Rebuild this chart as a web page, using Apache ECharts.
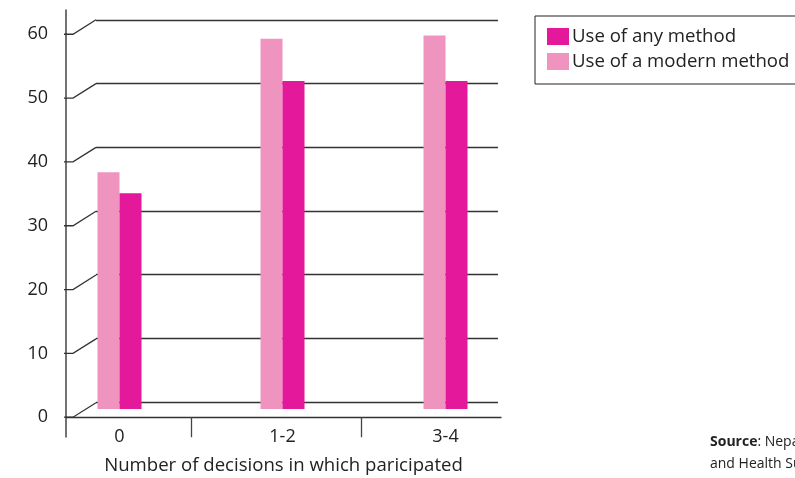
<!DOCTYPE html>
<html>
<head>
<meta charset="utf-8">
<script src="https://cdn.jsdelivr.net/npm/echarts@6/dist/echarts.min.js"></script>
<style>
  html, body { margin: 0; padding: 0; background: #fff; }
  #chart { width: 795px; height: 478px; }
</style>
</head>
<body>
<div id="chart"></div>
<script>
// Contraceptive use by number of household decisions a woman took part in
const categories = ['0', '1-2', '3-4'];
const modernMethod = [37.1, 58.0, 58.5];   // Use of a modern method
const anyMethod = [33.8, 51.4, 51.4];      // Use of any method
const yTicks = [0, 10, 20, 30, 40, 50, 60];
const seriesNames = ['Use of any method', 'Use of a modern method'];
const xTitle = 'Number of decisions in which paricipated';

const FONT = '"Open Sans", "Noto Sans", sans-serif';
const INK = '#222';
const LINE = '#333';
const PINK_LIGHT = '#EE94BF';
const PINK_DARK = '#E3189A';

// front frame axis: value range chosen so the x ticks sit on category boundaries
const frontX = { min: 0.265, max: 2.824 };

const chart = echarts.init(document.getElementById('chart'), null, { renderer: 'canvas' });

chart.setOption({
  animation: false,
  backgroundColor: '#fff',
  textStyle: { fontFamily: FONT },
  grid: [
    // 0: front frame (y scale labels, base line, x ticks)
    { left: 66, right: 294, top: 10, bottom: 41, outerBoundsMode: 'none', containLabel: false },
    // 1: back wall with horizontal grid lines
    { left: 96, right: 297, top: 20, bottom: 76, outerBoundsMode: 'none', containLabel: false },
    // 2: bars
    { left: 38, right: 268, top: 26, bottom: 69, outerBoundsMode: 'none', containLabel: false }
  ],
  xAxis: [
    {
      gridIndex: 0, type: 'value', min: frontX.min, max: frontX.max,
      axisLine: { show: true, onZero: true, lineStyle: { color: LINE, width: 1.3 } },
      axisTick: { show: true, customValues: [1, 2], length: 20, inside: false,
                  lineStyle: { color: '#444', width: 1.3 } },
      axisLabel: { show: false },
      splitLine: { show: false },
      name: xTitle, nameLocation: 'middle', nameGap: 19,
      nameTextStyle: { fontFamily: FONT, fontSize: 18.6, color: INK }
    },
    { gridIndex: 1, type: 'category', data: categories, show: false },
    {
      gridIndex: 2, type: 'category', data: categories,
      axisLine: { show: false }, axisTick: { show: false },
      axisLabel: { margin: 19, fontFamily: FONT, fontSize: 18, color: INK },
      splitLine: { show: false }
    }
  ],
  yAxis: [
    {
      gridIndex: 0, type: 'value', min: -3.1, max: 63.8,
      axisLine: { show: true, lineStyle: { color: '#444', width: 1.5 } },
      axisTick: { show: false },
      axisLabel: { customValues: yTicks, margin: 18, fontFamily: FONT, fontSize: 18, color: INK,
                   padding: [0, 0, 3, 0] },
      splitLine: { show: false }
    },
    {
      gridIndex: 1, type: 'value', min: 0, max: 60, interval: 10,
      axisLine: { show: false }, axisTick: { show: false }, axisLabel: { show: false },
      splitLine: { show: true, lineStyle: { color: LINE, width: 1.3 } }
    },
    {
      gridIndex: 2, type: 'value', min: 0, max: 60, show: false,
      splitLine: { show: false }
    }
  ],
  legend: {
    data: seriesNames,
    orient: 'vertical',
    left: 535, top: 16,
    padding: [10, 12, 12, 12],
    itemGap: 4,
    itemWidth: 22, itemHeight: 17,
    borderColor: '#222', borderWidth: 1,
    icon: 'rect',
    textStyle: { fontFamily: FONT, fontSize: 18.6, color: INK, padding: [0, 0, 0, -2], lineHeight: 21 }
  },
  series: [
    {
      // perspective connectors from the front scale to the back wall
      type: 'custom', xAxisIndex: 0, yAxisIndex: 0, silent: true, z: 3,
      data: yTicks.map(v => [frontX.min, v]),
      renderItem: function (params, api) {
        const p = api.coord([api.value(0), api.value(1)]);
        return {
          type: 'polyline',
          shape: { points: [[p[0] - 2, p[1]], [p[0] + 7, p[1]], [p[0] + 30, p[1] - 14.5]] },
          style: { stroke: LINE, lineWidth: 1.3, fill: null }
        };
      }
    },
    {
      name: seriesNames[1], type: 'bar', xAxisIndex: 2, yAxisIndex: 2,
      data: modernMethod, barWidth: 22, barGap: '0%', z: 4,
      itemStyle: { color: PINK_LIGHT }
    },
    {
      name: seriesNames[0], type: 'bar', xAxisIndex: 2, yAxisIndex: 2,
      data: anyMethod, barWidth: 22, barGap: '0%', z: 4,
      itemStyle: { color: PINK_DARK }
    }
  ],
  graphic: [
    {
      type: 'text', left: 710, top: 431, silent: true,
      style: {
        text: '{b|Source}: Nepal Demographic\nand Health Survey 2011',
        font: '14px ' + FONT, fill: INK, lineHeight: 22,
        rich: { b: { fontWeight: 'bold', fontFamily: FONT, fontSize: 14, fill: INK } }
      }
    }
  ]
});
</script>
</body>
</html>
